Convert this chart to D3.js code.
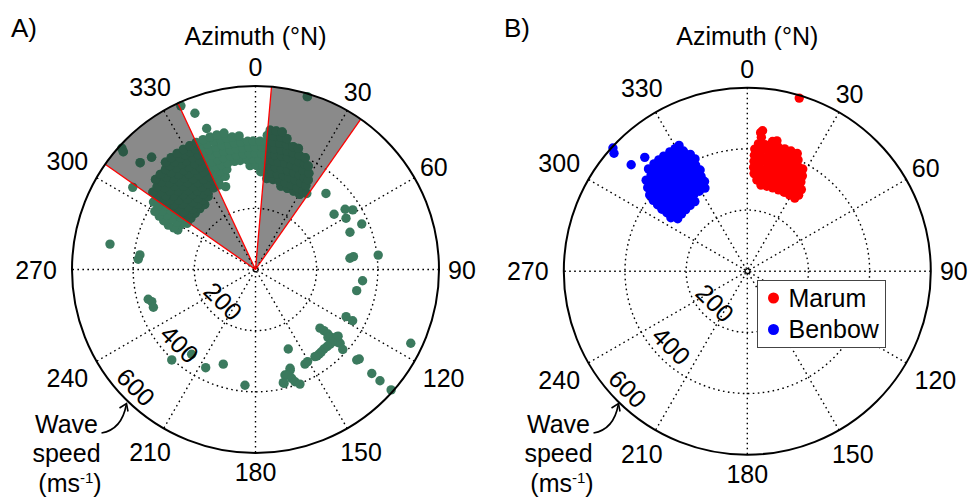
<!DOCTYPE html>
<html><head><meta charset="utf-8">
<script src="https://cdn.jsdelivr.net/npm/d3@7"></script>
<style>
body{margin:0;background:#fff}
svg{display:block}
text{font-family:"Liberation Sans",Arial,Helvetica,sans-serif;fill:#000}
</style>
</head><body>
<svg id="chart" width="973" height="498"></svg>
<script>
// ---------------- DATA ----------------
const angleTicks = [0, 30, 60, 90, 120, 150, 180, 210, 240, 270, 300, 330];
const speedTicks = [200, 400, 600];
const speedMax = 600;
const sectorsA = [[305, 335], [5, 35]];

// Panel A: dense upper arc of detections, rows of [speed, azimuths]
const upperRowsA = [
  [270, [304, 308.5, 313, 317.5, 322]],
  [285, [297, 301, 305.5, 310, 314, 318.5, 323, 327, 17, 21.5, 26, 30.5]],
  [300, [297, 301, 305, 309, 313, 317, 321, 325, 329, 333, 337, 7, 11, 15, 19, 23, 27, 31, 34]],
  [320, [297, 301, 304.5, 308, 312, 316, 320, 323.5, 327, 331, 335, 338.5, 342, 3, 6, 9.5, 13, 16.5, 20, 24, 27.5, 31]],
  [340, [298, 301.5, 305, 308.5, 312, 316, 319.5, 323, 326.5, 330, 333.5, 337, 340.5, 344, 357, 0.5, 4, 7.5, 11, 14.5, 18, 21.5, 25, 28, 30.5]],
  [360, [299, 302, 305.5, 309, 312, 315.5, 319, 322, 325.5, 329, 332, 335.5, 339, 342, 345.5, 349, 352, 355.5, 359, 2, 5.5, 9, 12, 15.5, 19, 22, 25.5, 29]],
  [380, [300, 303, 306, 309.5, 312.5, 316, 319, 322, 325, 328.5, 331.5, 335, 338, 341, 344, 347.5, 350.5, 354, 357, 0, 3, 6.5, 9.5, 13, 16, 19, 22, 25, 27]],
  [400, [303.5, 306, 309, 312, 315, 318, 321, 324, 327, 330, 333, 336, 339, 342, 345, 348, 351, 354, 357, 0, 3, 6, 9, 12, 15, 18, 21, 24]],
  [420, [307, 310, 313, 316, 319, 322, 325, 327.5, 330.5, 333.5, 336, 339, 342, 345, 348, 350.5, 353.5, 356.5, 359, 2, 5, 8, 11, 14, 17, 19.5]],
  [440, [312, 315, 318, 320.5, 323, 326, 328.5, 331, 333.5, 336, 339, 342, 345, 347.5, 350, 353, 5, 8, 11, 13.5]],
  [458, [320, 323, 326, 329, 332, 335, 338, 341, 344, 347, 6, 8.5, 11]]
];
// Panel A: scattered detections [azimuth, speed]
const scatterA = [
  [335.5, 588], [338.8, 548], [340.9, 488], [16.7, 590], [312.2, 590], [311.7, 579],
  [312.8, 514], [317.2, 500], [303.8, 483], [279.9, 483], [277.2, 381], [275, 385],
  [340.2, 288], [42.8, 339], [56.1, 353], [58.5, 373], [54.9, 314], [60.5, 340],
  [66.8, 378], [68.5, 332], [83.3, 404], [83.2, 311], [82.5, 323], [96, 352], [101.8, 338],
  [254.5, 364], [252.8, 355], [249.7, 356], [222.8, 403], [217, 347], [206.9, 360],
  [198.8, 327], [185.2, 380], [117.5, 334], [117.8, 359],
  [132.3, 285], [131.8, 300], [131.7, 317], [131.8, 333], [131.9, 345], [131.5, 360],
  [131.1, 367], [132.5, 387], [133.2, 325], [130.5, 352],
  [128.9, 347], [129.6, 345], [133.5, 345], [135, 345], [137, 344], [139.3, 343],
  [141.5, 345], [143, 346], [144.6, 347], [145.7, 345],
  [157.6, 281], [152.4, 349], [150.5, 346], [164.4, 358], [161, 348], [160.7, 342],
  [163.5, 360], [161.6, 375], [160.6, 389], [158.8, 402], [165.9, 384], [166.2, 381],
  [131.8, 510], [131.8, 546], [131.8, 444], [130.8, 448], [131.6, 593], [115.4, 562]
];

// Panel B: Marum (red) rows of [speed, azimuths] plus singles
const marumRows = [
  [285, [9, 13, 17, 21, 25, 29, 33]],
  [300, [6, 10, 14, 18, 22, 26, 30, 34]],
  [320, [4, 8, 11.5, 15, 19, 22.5, 26, 30, 33.5]],
  [340, [3.5, 7, 10.5, 14, 17.5, 21, 24.5, 28, 31]],
  [360, [3.5, 7, 10.5, 14, 17, 20.5, 24, 27, 30]],
  [380, [3.5, 6.5, 10, 13, 16.5, 19.5, 23, 26, 28.5]],
  [400, [3.5, 6.5, 9.5, 12.5, 15.5, 18.5, 21.5, 24.5]],
  [418, [5, 8, 11, 14, 17, 20, 23]]
];
const marumSingles = [[6, 440], [5.5, 455], [6.2, 462], [12.8, 437], [11, 432], [16.7, 591]];

// Panel B: Benbow (blue)
const benbowRows = [
  [285, [307, 311, 315, 319, 323]],
  [305, [305, 309, 313, 317, 321, 325, 329, 333]],
  [325, [306, 309.5, 313, 317, 320.5, 324, 327.5, 331, 334.5]],
  [345, [306, 309.5, 313, 316.5, 320, 323.5, 327, 330.5, 334]],
  [365, [306.5, 310, 313, 316.5, 320, 323, 326.5, 330, 333, 335]],
  [385, [307, 310, 313, 316, 319, 322, 325, 328, 331, 334]],
  [405, [308, 311, 314, 317, 320, 323, 326, 329, 332, 335]],
  [425, [310, 313, 316, 319, 322, 325, 328, 331, 334]],
  [445, [312, 315, 318, 320.5, 323, 326, 329, 332]],
  [465, [316, 319, 321.5, 324, 327, 329.5]]
];
const benbowSingles = [[331.5, 468], [312.5, 596], [311.5, 582], [312.5, 515], [318, 501]];

const legendLabels = ["Marum", "Benbow"];
const seriesColors = {green: "#3b7a5e", darkGreen: "#2b5845", Marum: "#ff0000", Benbow: "#0000ff"};

// ---------------- DRAWING ----------------
const svg = d3.select("#chart");
const FS = 25;
const rows2pts = rows => rows.flatMap(([v, azs]) => azs.map(a => [a, v]));

function panel(cx, cy, R, opt) {
  const g = svg.append("g").attr("transform", `translate(${cx},${cy})`);
  const rScale = d3.scaleLinear().domain([0, speedMax]).range([0, R]);
  const aScale = d3.scaleLinear().domain([0, 360]).range([0, 2 * Math.PI]);
  const pos = (az, v) => d3.pointRadial(aScale(az), rScale(v));
  const arc = d3.arc();
  const dash = "1.6,3.4";
  const labelPos = d => {
    const s = Math.abs(Math.sin(aScale(d)));
    const rr = R + 19 + (4 + (String(d).length - 2) * 13) * s;
    return d3.pointRadial(aScale(d), rr);
  };

  if (opt.sectors) {
    g.selectAll("path.sector").data(opt.sectors).join("path")
      .attr("class", "sector")
      .attr("d", d => arc({innerRadius: 0, outerRadius: rScale(speedMax), startAngle: aScale(d[0]), endAngle: aScale(d[1])}))
      .attr("fill", "#8a8a8a");
  }
  // spokes
  g.selectAll("line.spoke").data(angleTicks.filter(a => a < 180)).join("line")
    .attr("class", "spoke")
    .attr("x1", d => pos(d, speedMax)[0]).attr("y1", d => pos(d, speedMax)[1])
    .attr("x2", d => pos(d + 180, speedMax)[0]).attr("y2", d => pos(d + 180, speedMax)[1])
    .attr("stroke", "#000").attr("stroke-width", 1.4).attr("stroke-dasharray", dash);
  // rings
  g.selectAll("circle.ring").data(speedTicks.filter(v => v < speedMax)).join("circle")
    .attr("class", "ring").attr("r", d => rScale(d))
    .attr("fill", "none").attr("stroke", "#000").attr("stroke-width", 1.4).attr("stroke-dasharray", dash);
  if (opt.centerRing) {
    g.append("circle").attr("r", 3.5).attr("fill", "none").attr("stroke", "#000")
      .attr("stroke-width", 1.2).attr("stroke-dasharray", "1.2,1.2");
  }
  // points
  opt.series.forEach(s => {
    g.append("g").selectAll("circle").data(s.points).join("circle")
      .attr("cx", d => pos(d[0], d[1])[0]).attr("cy", d => pos(d[0], d[1])[1])
      .attr("r", 4.7).attr("fill", s.color);
  });
  if (opt.sectors) {
    const id = "clipSec";
    const cp = g.append("clipPath").attr("id", id);
    cp.selectAll("path").data(opt.sectors).join("path")
      .attr("d", d => arc({innerRadius: 0, outerRadius: rScale(speedMax), startAngle: aScale(d[0]), endAngle: aScale(d[1])}));
    opt.series.forEach(s => {
      g.append("g").attr("clip-path", `url(#${id})`).selectAll("circle").data(s.points).join("circle")
        .attr("cx", d => pos(d[0], d[1])[0]).attr("cy", d => pos(d[0], d[1])[1])
        .attr("r", 4.7).attr("fill", seriesColors.darkGreen);
    });
    g.selectAll("line.edge").data(opt.sectors.flat()).join("line")
      .attr("class", "edge")
      .attr("x1", 0).attr("y1", 0)
      .attr("x2", d => pos(d, speedMax)[0]).attr("y2", d => pos(d, speedMax)[1])
      .attr("stroke", "#ff0000").attr("stroke-width", 1.3);
  }
  // outer circle
  g.append("circle").attr("r", rScale(speedMax)).attr("fill", "none").attr("stroke", "#000").attr("stroke-width", 2);
  // angle labels
  g.selectAll("text.ang").data(angleTicks).join("text")
    .attr("class", "ang")
    .attr("x", d => labelPos(d)[0])
    .attr("y", d => labelPos(d)[1])
    .attr("text-anchor", "middle").attr("dominant-baseline", "central")
    .attr("font-size", FS).text(d => d);
  // speed labels
  g.selectAll("text.spd").data(speedTicks).join("text")
    .attr("class", "spd")
    .attr("transform", d => {
      const p = pos(225.5, d - 52);
      return `translate(${p[0]},${p[1]}) rotate(45)`;
    })
    .attr("text-anchor", "middle").attr("dominant-baseline", "central")
    .attr("font-size", FS).text(d => d);
  return g;
}

function annot(dx) {
  const g = svg.append("g").attr("transform", `translate(${dx},0)`);
  g.append("text").attr("x", 66.5).attr("y", 433).attr("text-anchor", "middle").attr("font-size", FS).text("Wave");
  g.append("text").attr("x", 66.5).attr("y", 462).attr("text-anchor", "middle").attr("font-size", FS).text("speed");
  const t = g.append("text").attr("x", 70).attr("y", 492).attr("text-anchor", "middle").attr("font-size", FS);
  t.append("tspan").text("(ms");
  t.append("tspan").attr("dy", -9).attr("font-size", 15).text("-1");
  t.append("tspan").attr("dy", 9).text(")");
  g.append("path").attr("d", "M101.5,433 C113,431 123,423 126.3,404.5")
    .attr("fill", "none").attr("stroke", "#000").attr("stroke-width", 1.6);
  g.append("path").attr("d", "M119.5,408 L126.5,403.5 L128,411.5")
    .attr("fill", "none").attr("stroke", "#000").attr("stroke-width", 1.6);
}

// Panel A
panel(255.5, 269.5, 183.5, {
  sectors: sectorsA,
  series: [{points: rows2pts(upperRowsA).concat(scatterA), color: seriesColors.green}]
});
// Panel B
panel(747.3, 271.2, 183.5, {
  centerRing: true,
  series: [
    {points: rows2pts(benbowRows).concat(benbowSingles), color: seriesColors.Benbow},
    {points: rows2pts(marumRows).concat(marumSingles), color: seriesColors.Marum}
  ]
});

// titles
svg.append("text").attr("x", 11).attr("y", 37).attr("font-size", FS + 1).text("A)");
svg.append("text").attr("x", 504).attr("y", 37).attr("font-size", FS + 1).text("B)");
svg.append("text").attr("x", 255.5).attr("y", 45).attr("text-anchor", "middle").attr("font-size", FS).text("Azimuth (°N)");
svg.append("text").attr("x", 747.3).attr("y", 45).attr("text-anchor", "middle").attr("font-size", FS).text("Azimuth (°N)");
annot(0);
annot(492);

// legend
const lg = svg.append("g").attr("transform", "translate(757.5,280.5)");
lg.append("rect").attr("width", 128).attr("height", 67).attr("fill", "#fff").attr("stroke", "#444").attr("stroke-width", 1);
lg.selectAll("circle").data(legendLabels).join("circle")
  .attr("cx", 16).attr("cy", (d, i) => 17.5 + i * 31.5).attr("r", 5.5)
  .attr("fill", d => seriesColors[d]);
lg.selectAll("text").data(legendLabels).join("text")
  .attr("x", 31).attr("y", (d, i) => 26 + i * 31.5).attr("font-size", FS).text(d => d);
</script>
</body></html>
